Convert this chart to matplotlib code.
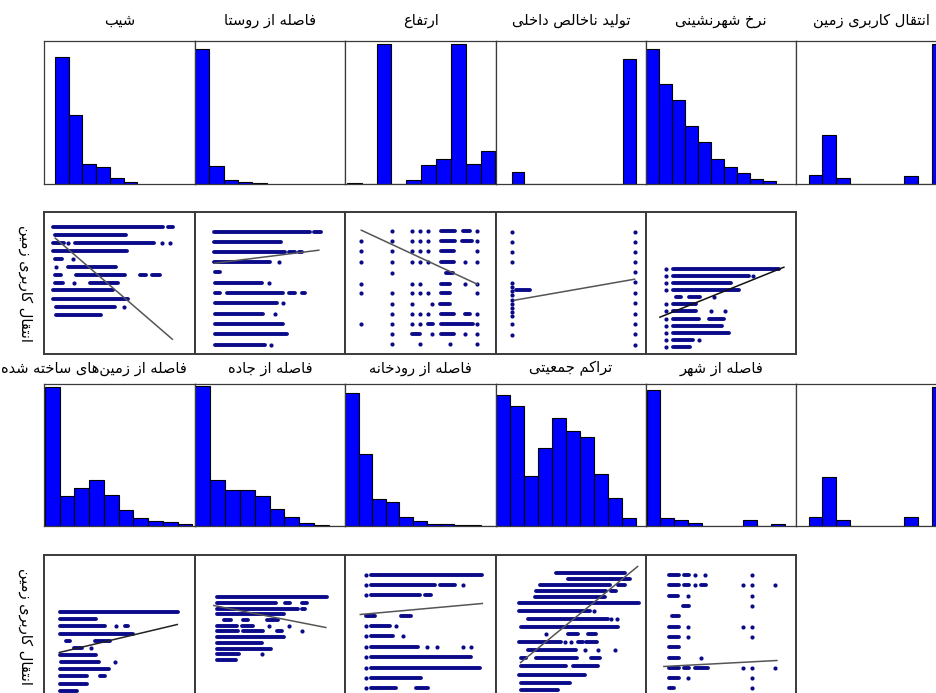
import numpy as np
import matplotlib
matplotlib.use("Agg")
import matplotlib.pyplot as plt

# ---- titles ----
top_names = ["شیب", "فاصله از روستا", "ارتفاع", "تولید ناخالص داخلی",
             "نرخ شهرنشینی", "انتقال کاربری زمین"]
bottom_names = ["فاصله از زمین\u200cهای ساخته شده", "فاصله از جاده", "فاصله از رودخانه",
                "تراکم جمعیتی", "فاصله از شهر"]
ylabel = "انتقال کاربری زمین"

# ---- histograms: (first bin start, bin width) as share of panel, bar heights as share of panel ----
slope_hist = (0.071, 0.0914, [0.89, 0.484, 0.134, 0.117, 0.038, 0.01])
village_hist = (0.002, 0.0953, [0.944, 0.124, 0.028, 0.01, 0.005])
elev_hist = (0.011, 0.0987, [0.005, 0, 0.98, 0, 0.028, 0.131, 0.174, 0.98, 0.134, 0.225])
gdp_hist = (0.109, 0.0822, [0.082, 0, 0, 0, 0, 0, 0, 0, 0, 0.873])
urban_hist = (0.0, 0.0863, [0.944, 0.695, 0.589, 0.406, 0.291, 0.169, 0.113, 0.073, 0.033, 0.016])
landuse_hist = (0.082, 0.0909, [0.061, 0.343, 0.038, 0, 0, 0, 0, 0.056, 0, 0.977])

built_hist = (0.004, 0.098, [0.977, 0.214, 0.27, 0.326, 0.221, 0.114, 0.058, 0.037, 0.028, 0.012])
road_hist = (0.002, 0.099, [0.981, 0.323, 0.251, 0.256, 0.209, 0.123, 0.065, 0.019, 0.007, 0.0])
river_hist = (0.0, 0.09, [0.935, 0.507, 0.191, 0.167, 0.063, 0.035, 0.016, 0.012, 0.007, 0.005, 0.003])
density_hist = (0.004, 0.093, [0.919, 0.844, 0.353, 0.551, 0.756, 0.67, 0.628, 0.365, 0.198, 0.058])
city_hist = (0.004, 0.092, [0.953, 0.058, 0.042, 0.023, 0, 0, 0, 0.042, 0, 0.012])
landuse_hist2 = (0.082, 0.0909, [0.063, 0.342, 0.047, 0, 0, 0, 0, 0.063, 0, 0.977])

# ---- scatter rows: (y level, [x or (x_from, x_to) runs of points]) ----
slope_pts = [
    (127, [(9, 119), (124, 129)]), (119, [(11, 82)]),
    (111, [(9, 20), 24, (31, 110), 118, 126]), (103, [(9, 83)]),
    (95, [(11, 18), 29]), (87, [12, (24, 72)]),
    (79, [(11, 17), (32, 81), (96, 102), (108, 116)]), (71, [(11, 19), 30, (46, 74)]),
    (64, [(9, 69)]), (55, [(9, 84)]), (47, [(12, 71), 80]), (39, [(12, 57)])]
slope_fit = ([11, 128], [116, 15])

village_pts = [
    (122, [(19, 115), (119, 126)]), (112, [(19, 86)]),
    (102, [(19, 90), (94, 100), (104, 107)]), (92, [(19, 75), 84]),
    (82, [(20, 25)]), (71, [(20, 67), 74]),
    (61, [(20, 25), (32, 88), (94, 100), (107, 110)]), (51, [(20, 82), 88]),
    (40, [(20, 68), 80]), (30, [(20, 88)]), (20, [(20, 92)]), (9, [(20, 70), 76])]
village_fit = ([20, 124], [91, 104])

elev_pts = [
    (123, [47, 67, 75, 83, (96, 110), (118, 125), 132]),
    (113, [16, 47, 67, 75, 83, (96, 110), (117, 127), 132]),
    (103, [16, 47, 67, 75, 83, (96, 109), 132]),
    (92, [16, 47, 67, 75, 83, (96, 109), 120, 132]),
    (81, [47, (101, 108)]),
    (70, [16, 67, 75, (96, 105), 120, 132]),
    (61, [16, 47, 67, 75, 83, (96, 105), 132]),
    (50, [47, 67, 87, (95, 105)]),
    (40, [47, 67, 75, 83, (96, 109), (120, 125), 132]),
    (30, [16, 47, 67, 75, (83, 88), (96, 128), 132]),
    (20, [47, (67, 75), 87, (96, 109), 120, 132]),
    (10, [47, 75, 105, 132])]
elev_fit = ([16, 132], [124, 70])

gdp_pts = [
    (122, [16, 139]), (112, [16, 139]), (102, [16, 139]), (92, [16, 139]),
    (82, [139]), (72, [139]), (71, [16]), (67, [16]), (64, [(20, 34)]), (63, [16]),
    (61, [139]), (59, [16]), (54, [16]), (51, [139]), (50, [16]), (46, [16]),
    (42, [16]), (40, [139]), (38, [16]), (30, [16, 139]), (20, [139]), (19, [16]),
    (9, [139])]
gdp_fit = ([19, 139], [54, 75])

urban_pts = [
    (85, [20, (27, 133)]), (78, [20, (27, 103), 107]), (71, [20, (27, 85)]),
    (64, [20, (27, 93)]), (57, [(30, 35), (43, 54), 68]), (50, [20, (27, 50)]),
    (43, [20, (27, 50), 65, 79]), (35, [20, (27, 53), (63, 78)]),
    (28, [20, (27, 76)]), (21, [20, (27, 83)]), (14, [20, (27, 47), 53]),
    (7, [20, (27, 44)])]
urban_fit = ([14, 138], [37, 87])

built_pts = [
    (86, [(16, 134)]), (79, [(16, 52)]), (72, [(16, 61), 72, (81, 84)]),
    (64, [(16, 89)]), (57, [(22, 26), (51, 66)]), (50, [(30, 38), 47]),
    (43, [(16, 52)]), (36, [(17, 55), 71]), (29, [(16, 65)]),
    (22, [(16, 43), (56, 61)]), (14, [(16, 43)]), (7, [(16, 33)])]
built_fit = ([15, 133], [45, 73])

road_pts = [
    (101, [(22, 132)]), (95, [(22, 81), (90, 95), (107, 112)]),
    (89, [(22, 103), (107, 110)]), (84, [(22, 89)]),
    (78, [(29, 36), (48, 53), (72, 83)]), (72, [(22, 42), (47, 58), 74, 94]),
    (67, [(22, 43), (48, 68), (82, 87), 107]), (61, [(22, 89)]),
    (55, [(22, 67)]), (49, [(22, 76)]), (44, [(22, 44), 67]), (38, [(22, 41)])]
road_fit = ([19, 131], [92, 70])

river_pts = [
    (123, [21, (26, 137)]), (113, [21, (26, 90), (95, 110), 118]),
    (103, [21, (26, 75), (80, 86)]), (82, [(21, 30), (56, 66)]),
    (72, [21, (26, 45), 51]), (62, [21, (26, 48), 58]),
    (51, [21, (26, 73), 82, 92, 118, 126]), (41, [21, (26, 126)]),
    (30, [21, (26, 135)]), (20, [21, (26, 76)]), (10, [21, (26, 51), (71, 83)])]
river_fit = ([15, 137], [83, 94])

density_pts = [
    (125, [(60, 129)]), (119, [(72, 134)]), (113, [(44, 114), (122, 129)]),
    (107, [(40, 110), (115, 120)]), (101, [(39, 109)]), (95, [(23, 143)]),
    (87, [(23, 94), 98]), (79, [(32, 112), 115, 121]), (71, [(25, 122)]),
    (64, [50, (72, 82), (92, 100)]), (56, [(23, 65), 69, 75, (82, 87), (90, 101)]),
    (48, [(32, 80), 89, 102, 119]), (40, [(25, 30), (40, 81), (95, 104)]),
    (32, [(25, 70), (77, 102)]), (23, [(23, 89)]), (15, [(25, 74)]), (8, [(25, 62)])]
density_fit = ([25, 142], [35, 131])

city_pts = [
    (123, [(23, 33), (38, 43), 49, 59, 106]),
    (113, [(23, 33), (38, 43), 49, (55, 60), 97, 106, 129]),
    (102, [(23, 32), 42, 106]), (92, [(37, 43), 106]), (82, [(26, 33)]),
    (71, [(23, 33), 42, 97, 106]), (61, [(23, 33), 42, 106]), (51, [(23, 33)]),
    (40, [(23, 33), 55]), (30, [(23, 33), (38, 43), (49, 62), 97, 106, 129]),
    (20, [(23, 33), 42, 106]), (10, [(23, 28), 106])]
city_fit = ([18, 131], [31, 37])

# ---- minimal Persian shaping (matplotlib does no Arabic joining / RTL) ----
FORMS = {
    "ا": "\uFE8D\uFE8E", "د": "\uFEA9\uFEAA", "ر": "\uFEAD\uFEAE", "ز": "\uFEAF\uFEB0",
    "و": "\uFEED\uFEEE",
    "ب": "\uFE8F\uFE90\uFE91\uFE92", "ت": "\uFE95\uFE96\uFE97\uFE98",
    "ج": "\uFE9D\uFE9E\uFE9F\uFEA0", "خ": "\uFEA5\uFEA6\uFEA7\uFEA8",
    "س": "\uFEB1\uFEB2\uFEB3\uFEB4", "ش": "\uFEB5\uFEB6\uFEB7\uFEB8",
    "ص": "\uFEB9\uFEBA\uFEBB\uFEBC", "ع": "\uFEC9\uFECA\uFECB\uFECC",
    "ف": "\uFED1\uFED2\uFED3\uFED4", "ق": "\uFED5\uFED6\uFED7\uFED8",
    "ل": "\uFEDD\uFEDE\uFEDF\uFEE0", "م": "\uFEE1\uFEE2\uFEE3\uFEE4",
    "ن": "\uFEE5\uFEE6\uFEE7\uFEE8", "ه": "\uFEE9\uFEEA\uFEEB\uFEEC",
    "ک": "\uFB8E\uFB8F\uFB90\uFB91", "ی": "\uFBFC\uFBFD\uFBFE\uFBFF",
}


def shape(text):
    out = []
    for i, c in enumerate(text):
        if c not in FORMS:
            if c != "\u200c":
                out.append(c)
            continue
        prev = text[i - 1] if i > 0 else ""
        nxt = text[i + 1] if i + 1 < len(text) else ""
        f = FORMS[c]
        a = prev in FORMS and len(FORMS[prev]) == 4
        b = len(f) == 4 and nxt in FORMS
        if a and b:
            out.append(f[3])
        elif a:
            out.append(f[1])
        elif b:
            out.append(f[2])
        else:
            out.append(f[0])
    return "".join(reversed(out))


W, H = 936, 693
fig = plt.figure(figsize=(W / 100, H / 100), dpi=100)

col_left = [44.3, 194.8, 345.3, 495.6, 645.9, 796.2]
pw, ph = 150.4, 142.5
FRAME = "#3a3a3a"
DOT = "#0b0b8a"


def panel(x, top, lw):
    ax = fig.add_axes([x / W, 1 - (top + ph) / H, pw / W, ph / H])
    ax.set_xticks([])
    ax.set_yticks([])
    for s in ax.spines.values():
        s.set_color(FRAME)
        s.set_linewidth(lw)
    return ax


def draw_hist(ax, spec):
    x0, bw, h = spec
    xs = x0 + bw * np.arange(len(h))
    ax.bar(xs, h, width=bw, align="edge", color="#0000ff", edgecolor="black", linewidth=0.8)
    ax.set_xlim(0, 1)
    ax.set_ylim(0, 1)


def draw_scatter(ax, rows, fit, fit_color="#555555"):
    for y, items in rows:
        singles = [v for v in items if not isinstance(v, tuple)]
        runs = [v for v in items if isinstance(v, tuple)]
        if runs:
            ax.hlines([y] * len(runs), [r[0] for r in runs], [r[1] for r in runs],
                      colors=DOT, linewidth=2.8, capstyle="round")
        if singles:
            ax.scatter(singles, [y] * len(singles), s=9, color=DOT, linewidths=0)
    ax.plot(fit[0], fit[1], color=fit_color, linewidth=1.1)
    ax.set_xlim(0, pw)
    ax.set_ylim(0, ph)


top_hists = [slope_hist, village_hist, elev_hist, gdp_hist, urban_hist, landuse_hist]
bottom_hists = [built_hist, road_hist, river_hist, density_hist, city_hist, landuse_hist2]
top_scat = [(slope_pts, slope_fit), (village_pts, village_fit), (elev_pts, elev_fit),
            (gdp_pts, gdp_fit), (urban_pts, urban_fit)]
bottom_scat = [(built_pts, built_fit), (road_pts, road_fit), (river_pts, river_fit),
               (density_pts, density_fit), (city_pts, city_fit)]

FS = 10.5
for i, x in enumerate(col_left):
    draw_hist(panel(x, 41, 0.9), top_hists[i])
    draw_hist(panel(x, 383.7, 0.9), bottom_hists[i])
    fig.text((x + pw / 2) / W, 1 - 20.5 / H, shape(top_names[i]), ha="center", va="center",
             fontsize=FS)
    if i < 5:
        pts, fit = top_scat[i]
        draw_scatter(panel(x, 211.7, 1.4), pts, fit, "#111111" if i == 4 else "#555555")
        pts, fit = bottom_scat[i]
        draw_scatter(panel(x, 555, 1.4), pts, fit, "#222222" if i == 0 else "#555555")
        if i == 0:
            fig.text(187 / W, 1 - 368 / H, shape(bottom_names[i]), ha="right", va="center",
                     fontsize=FS)
        else:
            fig.text((x + pw / 2) / W, 1 - 368 / H, shape(bottom_names[i]), ha="center",
                     va="center", fontsize=FS)

for yc in [283, 626]:
    fig.text(25 / W, 1 - yc / H, shape(ylabel), rotation=270, ha="center", va="center",
             fontsize=FS)

fig.savefig("out.png", dpi=100)
